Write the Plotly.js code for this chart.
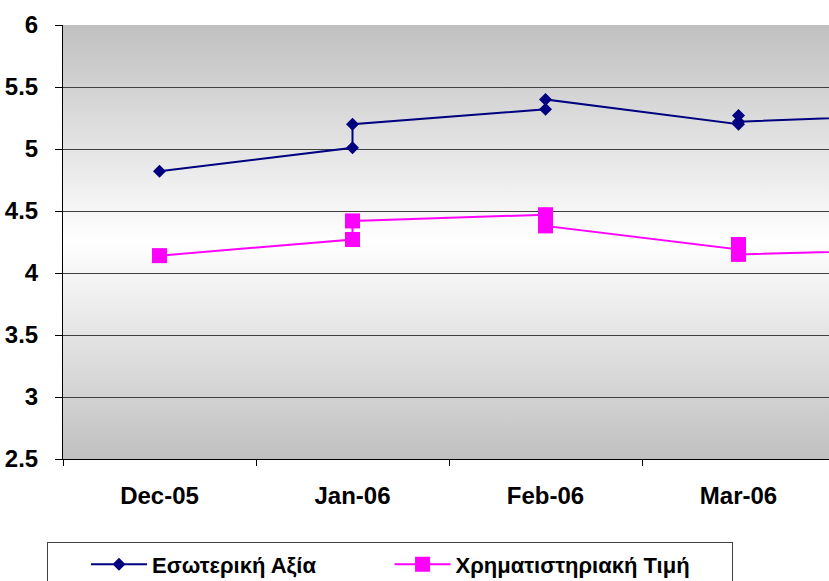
<!DOCTYPE html>
<html>
<head>
<meta charset="utf-8">
<script src="https://cdn.plot.ly/plotly-3.0.1.min.js"></script>
<style>
html,body{margin:0;padding:0;overflow:hidden;background:#fff;width:829px;height:581px;}
#chart{width:829px;height:581px;}
</style>
</head>
<body>
<div id="chart"></div>
<script>
// Categories (month axis); the chart is cropped on the right, Apr-06 lies beyond the edge
const categories = ['Dec-05','Jan-06','Feb-06','Mar-06','Apr-06'];

// Series 1: Εσωτερική Αξία (several observations per month)
const intrinsicX = ['Dec-05','Jan-06','Jan-06','Feb-06','Feb-06','Mar-06','Mar-06','Mar-06','Apr-06'];
const intrinsicY = [4.82, 5.01, 5.20, 5.32, 5.40, 5.20, 5.27, 5.22, 5.28];

// Series 2: Χρηματιστηριακή Τιμή
const priceX = ['Dec-05','Jan-06','Jan-06','Feb-06','Feb-06','Mar-06','Mar-06','Mar-06','Apr-06'];
const priceY = [4.14, 4.27, 4.42, 4.47, 4.38, 4.19, 4.23, 4.15, 4.19];

const seriesNames = ['Εσωτερική Αξία', 'Χρηματιστηριακή Τιμή'];
const yTicks = [2.5, 3, 3.5, 4, 4.5, 5, 5.5, 6];

const FONT = 'Liberation Sans, Arial, sans-serif';
const NB = '\u00a0';

const grad = "<svg xmlns='http://www.w3.org/2000/svg' width='10' height='100' preserveAspectRatio='none'>" +
  "<defs><linearGradient id='g' x1='0' y1='0' x2='0' y2='1'>" +
  "<stop offset='0' stop-color='#c0c0c0'/><stop offset='0.5' stop-color='#ffffff'/><stop offset='1' stop-color='#c0c0c0'/>" +
  "</linearGradient></defs><rect width='10' height='100' fill='url(#g)'/></svg>";
const gradSrc = 'data:image/svg+xml;charset=utf-8,' + encodeURIComponent(grad);

const traces = [
  {
    x: intrinsicX, y: intrinsicY, name: seriesNames[0] + NB.repeat(5), type: 'scatter', mode: 'lines+markers',
    line: {color: '#000080', width: 2},
    marker: {symbol: 'diamond', size: 10, color: '#000080', line: {width: 0}},
    cliponaxis: true
  },
  {
    x: priceX, y: priceY, name: seriesNames[1] + NB.repeat(6), type: 'scatter', mode: 'lines+markers',
    line: {color: '#ff00ff', width: 2},
    marker: {symbol: 'square', size: 15, color: '#ff00ff', line: {width: 0}},
    cliponaxis: true
  }
];

// one category is 193 px wide; the plot area runs 63..829 px
const catPx = 193, plotW = 829 - 63;

const layout = {
  width: 829, height: 581,
  margin: {l: 63, r: 0, t: 25, b: 121.5, autoexpand: false},
  paper_bgcolor: '#ffffff',
  plot_bgcolor: 'rgba(0,0,0,0)',
  showlegend: true,
  font: {family: FONT, size: 24, color: '#000'},
  xaxis: {
    type: 'category', categoryorder: 'array', categoryarray: categories,
    range: [-0.5, -0.5 + plotW / catPx],
    tickson: 'boundaries', ticks: 'outside', ticklen: 6, tickcolor: '#000', tickwidth: 1,
    showgrid: false, showline: true, linecolor: '#000', linewidth: 1,
    tickfont: {family: FONT, size: 24, weight: 'bold', color: '#000'},
    ticklabelstandoff: 15, zeroline: false, fixedrange: true
  },
  yaxis: {
    range: [2.5, 6], tickmode: 'array', tickvals: yTicks,
    ticks: 'outside', ticklen: 7, tickcolor: '#000', tickwidth: 1,
    showgrid: true, gridcolor: '#404040', gridwidth: 1,
    showline: true, linecolor: '#000', linewidth: 1, zeroline: false,
    tickfont: {family: FONT, size: 24, weight: 'bold', color: '#000'},
    ticklabelstandoff: 12, fixedrange: true
  },
  legend: {
    orientation: 'h', x: -0.0209, xanchor: 'left', y: -0.192, yanchor: 'top',
    bgcolor: '#ffffff', bordercolor: '#404040', borderwidth: 1,
    font: {family: FONT, size: 22, weight: 'bold', color: '#000'},
    indentation: 38, itemwidth: 56
  },
  images: [{
    source: gradSrc, xref: 'paper', yref: 'paper', x: 0, y: 1, sizex: 1, sizey: 1,
    xanchor: 'left', yanchor: 'top', sizing: 'stretch', layer: 'below'
  }]
};

Plotly.newPlot('chart', traces, layout, {displayModeBar: false, staticPlot: true});
</script>
</body>
</html>
